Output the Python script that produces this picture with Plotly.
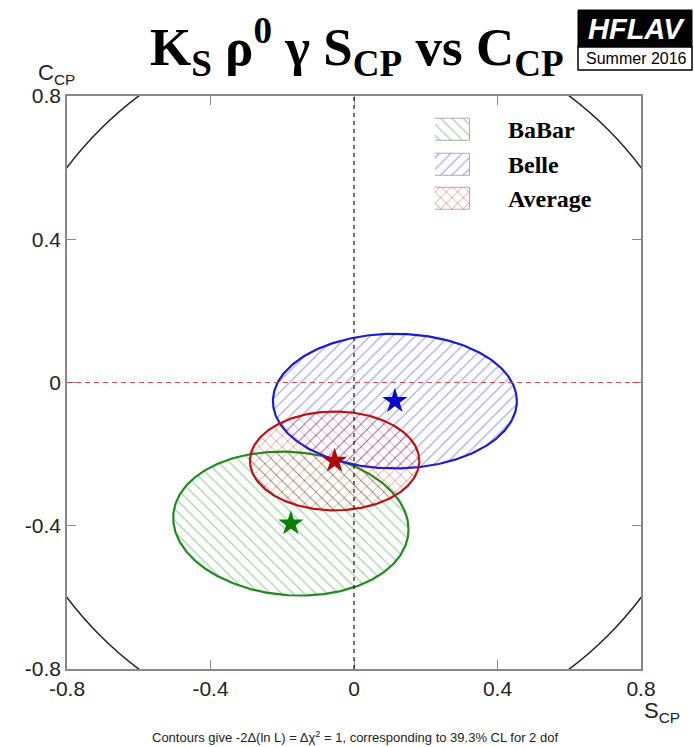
import numpy as np
import plotly.graph_objects as go

# ---- data ----
experiments = ["BaBar", "Belle", "Average"]
s_cp = [-0.176, 0.114, -0.054]        # central S_CP
c_cp = [-0.394, -0.052, -0.219]       # central C_CP
sigma_s = [0.328, 0.340, 0.236]       # S_CP uncertainty
sigma_c = [0.201, 0.188, 0.138]       # C_CP uncertainty
rho = [-0.08, 0.0, 0.0]               # correlation
x_ticks = [-0.8, -0.4, 0, 0.4, 0.8]
y_ticks = [-0.8, -0.4, 0, 0.4, 0.8]
tick_text = ["-0.8", "-0.4", "0", "0.4", "0.8"]

line_colors = ["#1e8c1e", "#1c1cd2", "#c01010"]
hatch_colors = ["rgba(40,150,40,0.85)", "rgba(50,50,215,0.85)", "rgba(210,30,30,0.95)"]
star_colors = ["#078007", "#0808c8", "#b00808"]
shapes_pat = ["\\", "/", "x"]
pat_solidity = [0.16, 0.16, 0.2]

W, H = 694, 747
L, R, T, B = 67, 53, 96, 78
pw, ph = W - L - R, H - T - B
def px(xp):
    return (xp - L) / pw
def py(yp):
    return (H - B - yp) / ph

fig = go.Figure()

t = np.linspace(0, 2 * np.pi, 361)
for i, name in enumerate(experiments):
    ex = s_cp[i] + sigma_s[i] * np.cos(t)
    ey = c_cp[i] + sigma_c[i] * (rho[i] * np.cos(t) + np.sqrt(1 - rho[i] ** 2) * np.sin(t))
    fig.add_trace(go.Scatter(
        x=ex, y=ey, mode="lines", fill="toself",
        fillcolor="rgba(255,255,255,0)",
        fillpattern=dict(shape=shapes_pat[i], fgcolor=hatch_colors[i], bgcolor="rgba(255,255,255,0)",
                         size=8, solidity=pat_solidity[i]),
        line=dict(color=line_colors[i], width=2.2),
        showlegend=False, hoverinfo="skip"))

for i, name in enumerate(experiments):
    fig.add_trace(go.Scatter(
        x=[s_cp[i]], y=[c_cp[i]], mode="markers",
        marker=dict(symbol="star", size=19, color=star_colors[i], line=dict(width=0)),
        showlegend=False, hoverinfo="skip"))

# legend swatches drawn as patterned bars in a small inset axis
leg_idx = list(range(len(experiments)))
fig.add_trace(go.Bar(
    x=[1] * len(experiments), y=leg_idx, orientation="h", width=0.64,
    xaxis="x2", yaxis="y2",
    marker=dict(color="rgba(255,255,255,0)",
                line=dict(color="#aaaaaa", width=1),
                pattern=dict(shape=shapes_pat, fgcolor=hatch_colors, bgcolor="rgba(255,255,255,0)",
                             size=8, solidity=pat_solidity)),
    showlegend=False, hoverinfo="skip"))

shapes = [
    dict(type="circle", xref="x", yref="y", x0=-1, y0=-1, x1=1, y1=1,
         line=dict(color="#222222", width=1.5), layer="above"),
    dict(type="line", xref="paper", yref="y", x0=0, x1=1, y0=0, y1=0,
         line=dict(color="rgba(215,60,60,0.9)", width=1.2, dash="5px,4px")),
    dict(type="line", xref="x", yref="paper", x0=0, x1=0, y0=0, y1=1,
         line=dict(color="#3a0606", width=1.2, dash="4px,4px")),
    # logo
    dict(type="rect", xref="paper", yref="paper", x0=px(578), x1=px(692), y0=py(47), y1=py(10),
         fillcolor="black", line=dict(color="black", width=1)),
    dict(type="rect", xref="paper", yref="paper", x0=px(578), x1=px(692), y0=py(70), y1=py(47),
         fillcolor="white", line=dict(color="black", width=1.5)),
]

annotations = [
    dict(text="<b>K<sub>S</sub> ρ<sup>0</sup> γ S<sub>CP</sub> vs C<sub>CP</sub></b>",
         xref="paper", yref="paper", x=px(357), y=py(47), xanchor="center", yanchor="middle",
         showarrow=False, font=dict(family="Liberation Serif", size=53, color="black")),
    dict(text="<b><i>HFLAV</i></b>", xref="paper", yref="paper", x=px(636), y=py(29),
         xanchor="center", yanchor="middle", showarrow=False,
         font=dict(family="Liberation Sans", size=29, color="white")),
    dict(text="Summer 2016", xref="paper", yref="paper", x=px(636), y=py(59),
         xanchor="center", yanchor="middle", showarrow=False,
         font=dict(family="Liberation Sans", size=16, color="black")),
    dict(text="C<sub>CP</sub>", xref="paper", yref="paper", x=px(56), y=py(74),
         xanchor="center", yanchor="middle", showarrow=False,
         font=dict(family="Liberation Sans", size=22, color="#222")),
    dict(text="S<sub>CP</sub>", xref="paper", yref="paper", x=px(662), y=py(712),
         xanchor="center", yanchor="middle", showarrow=False,
         font=dict(family="Liberation Sans", size=22, color="#222")),
    dict(text="Contours give -2Δ(ln L) = Δχ<sup>2</sup> = 1, corresponding to 39.3% CL for 2 dof",
         xref="paper", yref="paper", x=px(355), y=py(737), xanchor="center", yanchor="middle",
         showarrow=False, font=dict(family="Liberation Sans", size=13, color="#222")),
]
for i, name in enumerate(experiments):
    annotations.append(dict(text="<b>" + name + "</b>", xref="paper", yref="y2",
                            x=px(506), y=leg_idx[i], xanchor="left", yanchor="middle",
                            showarrow=False,
                            font=dict(family="Liberation Serif", size=24, color="black")))

axis_common = dict(range=[-0.8, 0.8], showgrid=False, zeroline=False, showline=True,
                   linecolor="#888888", linewidth=1.5, mirror="allticks", ticks="inside",
                   ticklen=9, tickwidth=1.2, tickcolor="#888888",
                   tickfont=dict(family="Liberation Sans", size=21, color="#222"),
                   fixedrange=True)

n = len(experiments)
step = 34.5
fig.update_layout(
    width=W, height=H,
    margin=dict(l=L, r=R, t=T, b=B),
    paper_bgcolor="white", plot_bgcolor="white",
    xaxis=dict(**axis_common, tickvals=x_ticks, ticktext=tick_text),
    yaxis=dict(**axis_common, tickvals=y_ticks, ticktext=tick_text),
    xaxis2=dict(domain=[px(435), px(470)], range=[0, 1], anchor="y2", visible=False,
                fixedrange=True),
    yaxis2=dict(domain=[py(130 - step / 2 + n * step), py(130 - step / 2)],
                range=[n - 0.5, -0.5], anchor="x2", visible=False, fixedrange=True),
    shapes=shapes, annotations=annotations,
    showlegend=False, bargap=0,
)

fig.write_html("out.html")
